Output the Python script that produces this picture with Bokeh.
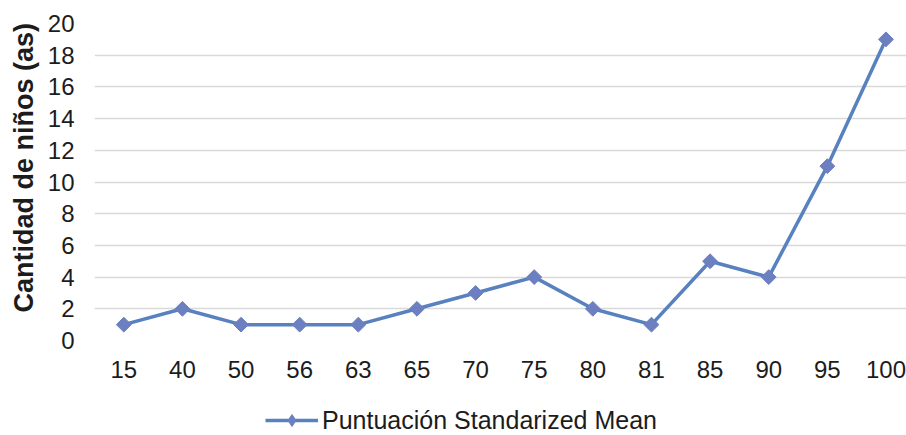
from math import pi

from bokeh.plotting import figure
from bokeh.layouts import column
from bokeh.models import (ColumnDataSource, FixedTicker, Range1d, Legend, LegendItem, Title)
from bokeh.embed import file_html
from bokeh.resources import INLINE

# Puntuación categories and number of children at each score
categories = ["15", "40", "50", "56", "63", "65", "70", "75", "80", "81", "85", "90", "95", "100"]
counts = [1, 2, 1, 1, 1, 2, 3, 4, 2, 1, 5, 4, 11, 19]
y_ticks = list(range(0, 21, 2))
series_name = "Puntuación Standarized Mean"
y_title = "Cantidad de niños (as)"

positions = list(range(len(categories)))
src = ColumnDataSource(dict(x=positions, y=counts, label=categories))

FONT = "Liberation Sans"
TEXT = "#1c1c1c"
LINE = "#5881bf"
MARK = "#6b7fc1"

p = figure(width=906, height=390, output_backend="svg", toolbar_location=None,
           x_range=Range1d(-0.5, 13.35), y_range=Range1d(0, 20),
           min_border_left=94, min_border_right=0, min_border_top=23, min_border_bottom=50)
p.outline_line_color = None
p.background_fill_color = "white"
p.border_fill_color = "white"

p.line("x", "y", source=src, line_color=LINE, line_width=3.5)
p.scatter("x", "y", source=src, marker="square", angle=pi / 4, size=10.5,
          fill_color=MARK, line_color=MARK)

# axes
p.xaxis.ticker = FixedTicker(ticks=positions)
p.xaxis.major_label_overrides = {i: c for i, c in enumerate(categories)}
p.yaxis.ticker = FixedTicker(ticks=y_ticks)
for ax in (p.xaxis[0], p.yaxis[0]):
    ax.axis_line_color = None
    ax.major_tick_line_color = None
    ax.minor_tick_line_color = None
    ax.major_tick_in = 0
    ax.major_tick_out = 0
    ax.minor_tick_in = 0
    ax.minor_tick_out = 0
    ax.major_label_text_font = FONT
    ax.major_label_text_font_size = "24px"
    ax.major_label_text_color = TEXT
p.xaxis.major_label_standoff = 20
p.yaxis.major_label_standoff = 20

p.xgrid.grid_line_color = None
p.ygrid.grid_line_color = "#d9d9d9"
p.ygrid.grid_line_width = 1.5
p.ygrid.ticker = FixedTicker(ticks=y_ticks)

# vertical axis title, anchored a little above the bottom of the plot area
p.add_layout(Title(text=y_title, align="left", offset=28, standoff=12,
                   text_font=FONT, text_font_style="bold", text_font_size="27px",
                   text_color=TEXT), "left")

# legend strip under the chart (its frame lines up with the chart's frame)
leg = figure(width=906, height=45, output_backend="svg", toolbar_location=None,
             x_range=Range1d(0, 1), y_range=Range1d(0, 1),
             min_border_left=0, min_border_right=0, min_border_top=0, min_border_bottom=0)
leg.axis.visible = False
leg.grid.visible = False
leg.outline_line_color = None
leg.border_fill_color = "white"
# sample glyphs sit outside the visible range; only their legend swatch shows
g_line = leg.line(x=[-5, -4], y=[-5, -5], line_color=LINE, line_width=3.5)
g_mark = leg.scatter(x=[-5], y=[-5], marker="diamond", size=12,
                     fill_color=MARK, line_color=MARK)
legend = Legend(items=[LegendItem(label=series_name, renderers=[g_line, g_mark])],
                location=(171, 0), orientation="horizontal",
                label_text_font=FONT, label_text_font_size="25px", label_text_color=TEXT,
                glyph_width=53, glyph_height=30, label_standoff=4, label_height=20,
                border_line_color=None, background_fill_alpha=0, margin=0, padding=0)
leg.add_layout(legend, "center")

open("out.html", "w").write(file_html(column(p, leg, spacing=0), INLINE))
